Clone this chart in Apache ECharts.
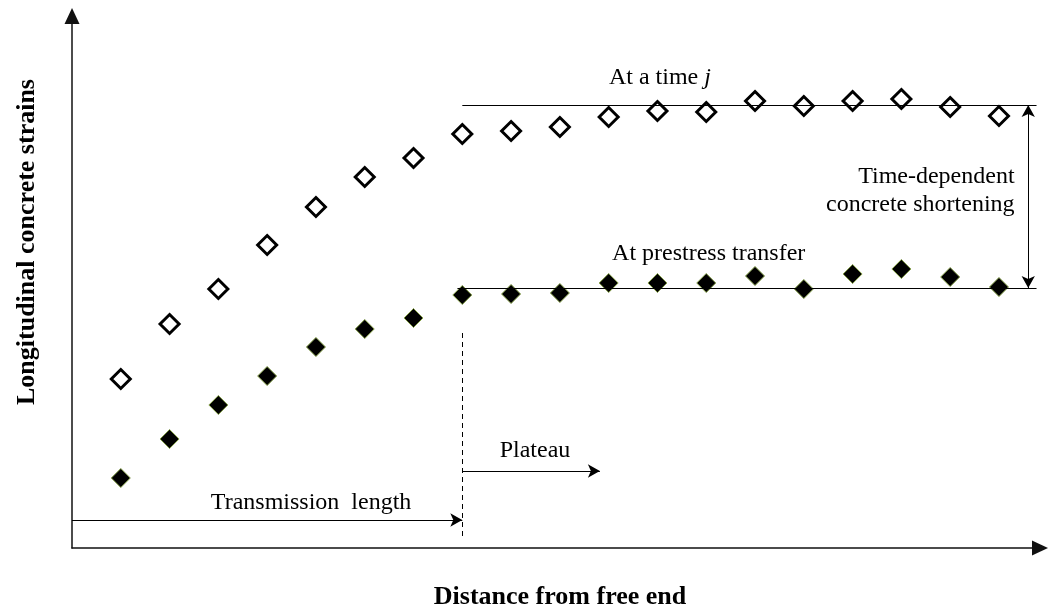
<!DOCTYPE html>
<html>
<head>
<meta charset="utf-8">
<script src="https://cdn.jsdelivr.net/npm/echarts@6/dist/echarts.min.js"></script>
<style>
  html, body { margin: 0; padding: 0; background: #fff; }
  #chart { width: 1049px; height: 608px; }
</style>
</head>
<body>
<div id="chart"></div>
<script>
// Measurement stations along the member (distance from the free end)
const distance = [1, 2, 3, 4, 5, 6, 7, 8, 9, 10, 11, 12, 13, 14, 15, 16, 17, 18, 19];

// Longitudinal concrete strain at a later time j (open diamonds)
const strainTimeJ = [169, 224, 259, 303, 341, 371, 390, 414, 417, 421, 431, 437, 436, 447, 442, 447, 449, 441, 432];

// Longitudinal concrete strain at prestress transfer (filled diamonds)
const strainTransfer = [70, 109, 143, 172, 201, 219, 230, 253, 254, 255, 265, 265, 265, 272, 259, 274, 279, 271, 261];

// Plateau levels and the end of the transmission length
const plateauTimeJ = 443;
const plateauTransfer = 260;
const transmissionEnd = 8;
const plateauLineEnd = 19.77;
const shorteningArrowX = 19.6;

const serif = 'Liberation Serif';

const chart = echarts.init(document.getElementById('chart'), null, { renderer: 'canvas' });

const pair = (xs, ys) => xs.map((d, i) => [d, ys[i]]);

const segment = (from, to, startSym, endSym) => [
  { coord: from, symbol: startSym },
  { coord: to, symbol: endSym }
];

const option = {
  animation: false,
  backgroundColor: '#fff',
  grid: { left: 72, right: 11, top: 16, bottom: 60, containLabel: false },
  xAxis: {
    type: 'value',
    min: 0,
    max: 19.8,
    axisLine: {
      show: true,
      onZero: false,
      symbol: ['none', 'triangle'],
      symbolSize: [15, 16],
      symbolOffset: [0, 2],
      lineStyle: { color: '#111', width: 1.5 }
    },
    axisTick: { show: false },
    axisLabel: { show: false },
    splitLine: { show: false }
  },
  yAxis: {
    type: 'value',
    min: 0,
    max: 532,
    axisLine: {
      show: true,
      onZero: false,
      symbol: ['none', 'triangle'],
      symbolSize: [15, 16],
      symbolOffset: [0, 0],
      lineStyle: { color: '#111', width: 1.5 }
    },
    axisTick: { show: false },
    axisLabel: { show: false },
    splitLine: { show: false }
  },
  series: [
    {
      name: 'At a time j',
      type: 'scatter',
      data: pair(distance, strainTimeJ),
      symbol: 'diamond',
      symbolSize: 19,
      itemStyle: { color: '#fff', borderColor: '#000', borderWidth: 3, opacity: 1 },
      z: 3
    },
    {
      name: 'At prestress transfer',
      type: 'scatter',
      data: pair(distance, strainTransfer),
      symbol: 'diamond',
      symbolSize: 19,
      itemStyle: { color: '#000', borderColor: '#86a04a', borderWidth: 1, opacity: 1 },
      z: 3
    },
    {
      name: 'guides',
      type: 'scatter',
      data: [],
      z: 4,
      markLine: {
        silent: true,
        animation: false,
        symbol: ['none', 'none'],
        symbolSize: [10, 12],
        label: { show: false },
        lineStyle: { color: '#000', width: 1, type: 'solid' },
        data: [
          segment([transmissionEnd, plateauTimeJ], [plateauLineEnd, plateauTimeJ], 'none', 'none'),
          segment([transmissionEnd - 0.1, plateauTransfer], [plateauLineEnd, plateauTransfer], 'none', 'none'),
          segment([shorteningArrowX, plateauTimeJ], [shorteningArrowX, plateauTransfer], 'arrow', 'arrow'),
          segment([0, 28], [transmissionEnd, 28], 'none', 'arrow'),
          segment([transmissionEnd, 77], [10.82, 77], 'none', 'arrow'),
          [
            { coord: [transmissionEnd, 215], symbol: 'none', lineStyle: { type: [5, 4], width: 1 } },
            { coord: [transmissionEnd, 8], symbol: 'none' }
          ]
        ]
      }
    }
  ]
};

chart.setOption(option);

const px = p => chart.convertToPixel({ gridIndex: 0 }, p);

const annotation = (pos, text, extra) => {
  const [x, y] = px(pos);
  return {
    type: 'text',
    x: x,
    y: y,
    silent: true,
    style: Object.assign({
      text: text,
      fill: '#000',
      fontFamily: serif,
      fontSize: 24,
      fontWeight: 'normal',
      align: 'center',
      verticalAlign: 'middle'
    }, extra || {})
  };
};

const title = (x, y, text, rotation) => ({
  type: 'text',
  x: x,
  y: y,
  rotation: rotation || 0,
  silent: true,
  style: {
    text: text,
    fill: '#000',
    fontFamily: serif,
    fontSize: 26,
    fontWeight: 'bold',
    align: 'center',
    verticalAlign: 'middle'
  }
});

chart.setOption({
  graphic: [
    annotation([12.05, 470], 'At a time {it|j}', {
      rich: { it: { fontStyle: 'italic', fontSize: 24, fontFamily: serif } }
    }),
    annotation([13.05, 294], 'At prestress transfer'),
    annotation([19.32, 371], 'Time-dependent', { align: 'right' }),
    annotation([19.32, 343], 'concrete shortening', { align: 'right' }),
    annotation([9.49, 97], 'Plateau'),
    annotation([4.9, 45], 'Transmission  length'),
    title(560, 597, 'Distance from free end'),
    title(27, 242, 'Longitudinal concrete strains', Math.PI / 2)
  ]
});
</script>
</body>
</html>
